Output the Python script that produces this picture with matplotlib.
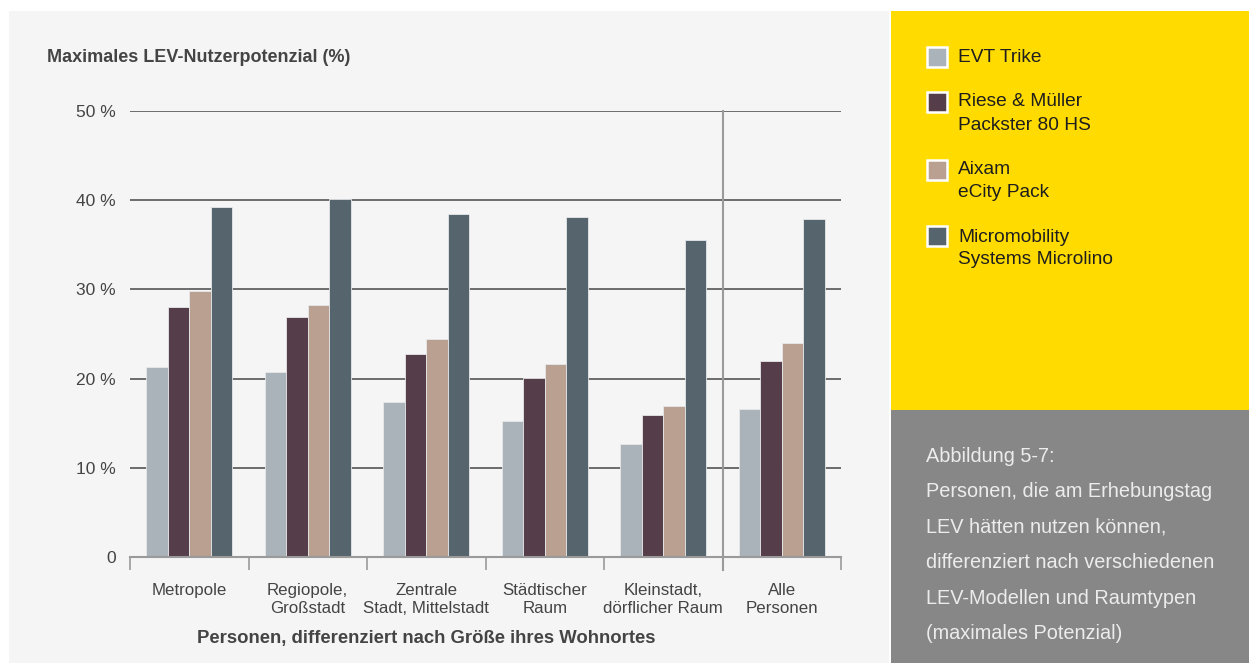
import matplotlib
matplotlib.use("Agg")
import matplotlib.pyplot as plt
from matplotlib.patches import Rectangle
import matplotlib.transforms as mtransforms

categories = ["Metropole", "Regiopole,\nGroßstadt", "Zentrale\nStadt, Mittelstadt",
              "Städtischer\nRaum", "Kleinstadt,\ndörflicher Raum", "Alle\nPersonen"]
series_names = ["EVT Trike", "Riese & Müller\nPackster 80 HS", "Aixam\neCity Pack",
                "Micromobility\nSystems Microlino"]
evt_trike = [21.3, 20.7, 17.4, 15.2, 12.7, 16.6]
riese_mueller = [28.0, 26.9, 22.8, 20.1, 15.9, 22.0]
aixam = [29.8, 28.2, 24.4, 21.6, 16.9, 24.0]
microlino = [39.2, 40.1, 38.4, 38.1, 35.5, 37.9]
series_values = [evt_trike, riese_mueller, aixam, microlino]
y_ticks = [0, 10, 20, 30, 40, 50]
y_tick_labels = ["0", "10 %", "20 %", "30 %", "40 %", "50 %"]
colors = ["#a9b3b9", "#553e49", "#b9a090", "#56656d"]

W, H = 1249, 663
fig = plt.figure(figsize=(W / 100, H / 100), dpi=100)
fig.patch.set_facecolor("white")

def fx(px):
    return px / W

def fy(py):
    return 1 - py / H

# background panels
fig.add_artist(Rectangle((fx(9), 0), fx(889) - fx(9), fy(11), transform=fig.transFigure,
                         facecolor="#f5f5f5", edgecolor="none", zorder=0))
fig.add_artist(Rectangle((fx(891), fy(410)), 1 - fx(891), fy(11) - fy(410), transform=fig.transFigure,
                         facecolor="#ffdb00", edgecolor="none", zorder=0))
fig.add_artist(Rectangle((fx(891), 0), 1 - fx(891), fy(410), transform=fig.transFigure,
                         facecolor="#878787", edgecolor="none", zorder=0))

ax = fig.add_axes([fx(130), fy(557), fx(841) - fx(130), fy(111) - fy(557)])
ax.set_facecolor("none")
ax.set_xlim(0, len(categories))
ax.set_ylim(0, 50)

bw = 0.181
for j, (vals, c) in enumerate(zip(series_values, colors)):
    xs = [i + 0.5 + (j - 1.5) * bw for i in range(len(categories))]
    ax.bar(xs, vals, width=bw, color=c, edgecolor="#e6e8ea", linewidth=0.6, zorder=3)

for v in y_ticks[1:]:
    ax.axhline(v, color="#555555", lw=1.2, zorder=1)

for s in ["top", "right", "left"]:
    ax.spines[s].set_visible(False)
ax.spines["bottom"].set_color("#9a9a9a")
ax.spines["bottom"].set_linewidth(1.5)
ax.spines["bottom"].set_zorder(4)

ax.set_xticks(range(len(categories) + 1))
ax.set_xticklabels([])
ax.tick_params(axis="x", direction="out", length=9.5, width=1.2, color="#9a9a9a")
ax.set_yticks(y_ticks)
ax.set_yticklabels(y_tick_labels, fontsize=12.5, color="#444444", family=["Liberation Sans"])
ax.tick_params(axis="y", length=0, pad=10)

# separator line
ax.plot([5, 5], [-1.5, 50], color="#9a9a9a", lw=1.5, clip_on=False, zorder=2)

trans = mtransforms.blended_transform_factory(ax.transData, ax.transAxes)
for i, cat in enumerate(categories):
    ax.text(i + 0.5, -26 / 446, cat, transform=trans, ha="center", va="top",
            fontsize=12.2, color="#444444", linespacing=1.25,
            family=["Liberation Sans"])

fig.text(fx(426), fy(639), "Personen, differenziert nach Größe ihres Wohnortes",
         ha="center", va="center", fontsize=13.3, weight="bold", color="#444444",
         family=["Liberation Sans"])
fig.text(fx(47), fy(58), "Maximales LEV-Nutzerpotenzial (%)", ha="left", va="center",
         fontsize=13, weight="bold", color="#444444", family=["Liberation Sans"])

# legend
sq_tops = [47, 92, 160, 226]
text_y = [57, 102, 169, 237]
for top, ty, name, c in zip(sq_tops, text_y, series_names, colors):
    fig.add_artist(Rectangle((fx(927), fy(top + 20)), fx(20), fy(top) - fy(top + 20),
                             transform=fig.transFigure, facecolor=c, edgecolor="white",
                             linewidth=1.8, zorder=2))
    for k, ln in enumerate(name.split("\n")):
        fig.text(fx(958), fy(ty + 23 * k), ln, ha="left", va="center", fontsize=13.8,
                 color="#1e1e1e", family=["Liberation Sans"])

caption = ["Abbildung 5-7:", "Personen, die am Erhebungstag", "LEV hätten nutzen können,",
           "differenziert nach verschiedenen", "LEV-Modellen und Raumtypen",
           "(maximales Potenzial)"]
for k, ln in enumerate(caption):
    fig.text(fx(926), fy(456 + 35.5 * k), ln, ha="left", va="center", fontsize=14.3,
             color="#ececec", family=["Liberation Sans"])

fig.savefig("out.png", dpi=100, facecolor=fig.get_facecolor())
